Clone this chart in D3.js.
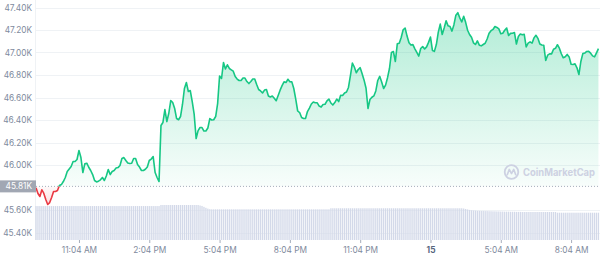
<!DOCTYPE html>
<html>
<head>
<meta charset="utf-8">
<script src="https://cdn.jsdelivr.net/npm/d3@7.9.0/dist/d3.min.js"></script>
<style>
  html, body { margin: 0; padding: 0; background: #fff; }
  svg { display: block; font-family: Inter, "Noto Sans", sans-serif; }
</style>
</head>
<body>
<svg id="chart" width="600" height="258"></svg>
<script>
// BTC price, 5 minute steps
const startTime = new Date(2021, 11, 14, 9, 14);
const stepMinutes = 5;
const openPrice = 45810;

const prices = [
  45797, 45747, 45720, 45780, 45747, 45693, 45649, 45666, 45711, 45764,
  45764, 45773, 45818, 45826, 45853, 45889, 45942, 45964, 45986, 46031,
  46031, 46049, 46129, 46066, 45933, 46010, 46016, 45980, 45951, 45915,
  45862, 45850, 45856, 45868, 45889, 45862, 45902, 45960, 45915, 45942,
  45951, 45973, 45977, 45995, 46058, 46066, 46040, 46018, 46013, 46016,
  46058, 46058, 46004, 45982, 45951, 45951, 45962, 45982, 46040, 46053,
  46075, 45933, 45889, 45853, 46351, 46378, 46493, 46386, 46460, 46573,
  46555, 46502, 46413, 46402, 46431, 46538, 46680, 46733, 46653, 46662,
  46564, 46449, 46235, 46306, 46333, 46333, 46302, 46302, 46329, 46413,
  46400, 46402, 46431, 46546, 46791, 46769, 46911, 46853, 46891, 46858,
  46846, 46834, 46786, 46764, 46751, 46751, 46773, 46773, 46742, 46724,
  46742, 46764, 46764, 46715, 46671, 46658, 46640, 46666, 46671, 46613,
  46604, 46613, 46594, 46571, 46618, 46665, 46705, 46739, 46733, 46762,
  46740, 46739, 46680, 46586, 46480, 46466, 46422, 46413, 46413, 46475,
  46506, 46542, 46560, 46554, 46553, 46524, 46515, 46538, 46540, 46570,
  46586, 46551, 46533, 46555, 46586, 46564, 46620, 46618, 46640, 46649,
  46689, 46795, 46906, 46871, 46820, 46849, 46865, 46811, 46754, 46682,
  46502, 46582, 46602, 46614, 46658, 46751, 46788, 46738, 46680, 46710,
  46776, 46858, 47000, 47009, 46920, 47077, 47082, 47133, 47202, 47218,
  47146, 47086, 47066, 47070, 47033, 47001, 46968, 47035, 47053, 47031,
  47050, 47090, 47137, 47018, 47010, 47071, 47181, 47252, 47160, 47218,
  47282, 47237, 47231, 47190, 47247, 47332, 47354, 47308, 47271, 47322,
  47268, 47198, 47160, 47136, 47086, 47071, 47103, 47065, 47059, 47071,
  47082, 47120, 47171, 47194, 47205, 47231, 47223, 47210, 47167, 47171,
  47198, 47218, 47151, 47170, 47171, 47177, 47075, 47142, 47164, 47157,
  47162, 47050, 47083, 47094, 47083, 47130, 47153, 47126, 47075, 47066,
  47065, 46929, 46976, 46988, 46988, 47029, 47037, 47069, 47038, 46989,
  46953, 46962, 46983, 46961, 46895, 46893, 46899, 46864, 46804, 46920,
  46990, 46995, 47009, 47010, 46994, 46970, 46961, 46997, 47034
];

// 24h volume, billions USD
const volumes = [
  29.1, 29.1, 29.1, 29.1, 29.1, 29.1, 29.1, 29.1, 29.1, 29.1,
  29.1, 29.1, 29.1, 29.1, 29.1, 29.1, 29.1, 29.1, 29.1, 29.1,
  29.1, 29.1, 29.1, 29.1, 29.1, 29.1, 29.1, 29.1, 29.1, 29.1,
  29.1, 29.1, 29.1, 29.1, 29.1, 29.1, 29.1, 29.1, 29.1, 29.1,
  29.1, 29.1, 29.1, 29.1, 29.1, 29.1, 29.1, 29.1, 29.1, 29.1,
  29.1, 29.1, 29.1, 29.1, 29.1, 29.1, 29.1, 29.1, 29.1, 29.1,
  29.1, 29.1, 29.1, 29.1, 30.0, 30.0, 30.0, 30.0, 30.0, 30.0,
  30.0, 30.0, 30.0, 30.0, 30.0, 30.0, 30.0, 30.0, 30.0, 30.0,
  30.0, 30.0, 30.0, 30.0, 29.6, 29.2, 28.4, 27.6, 26.9, 26.4,
  26.3, 26.3, 26.3, 26.3, 26.3, 26.3, 26.3, 26.3, 26.3, 26.3,
  26.3, 26.3, 26.3, 26.3, 26.3, 26.3, 26.3, 26.3, 26.3, 26.3,
  26.3, 26.3, 26.3, 26.3, 26.3, 26.3, 26.3, 26.3, 26.3, 26.3,
  26.3, 26.3, 26.3, 26.3, 26.3, 26.3, 26.3, 26.3, 26.3, 26.3,
  26.3, 26.3, 26.3, 26.3, 26.3, 26.3, 26.3, 26.3, 26.3, 26.3,
  26.3, 26.3, 26.3, 26.3, 26.3, 26.3, 26.3, 26.3, 26.3, 26.3,
  26.3, 27.2, 27.2, 27.2, 27.2, 27.2, 27.2, 27.2, 27.2, 27.2,
  27.2, 27.2, 27.2, 27.2, 27.2, 27.2, 27.2, 27.2, 27.2, 27.2,
  27.2, 27.2, 27.2, 27.2, 27.2, 27.2, 27.2, 27.2, 27.2, 27.2,
  27.2, 27.2, 27.2, 27.2, 27.2, 27.2, 27.2, 27.2, 27.2, 27.2,
  27.2, 27.2, 27.2, 27.2, 27.2, 27.2, 27.2, 27.2, 27.2, 27.2,
  27.2, 27.2, 27.2, 27.2, 27.2, 27.2, 27.2, 27.2, 27.2, 27.2,
  27.2, 27.2, 27.2, 27.2, 27.2, 27.2, 27.2, 27.2, 27.2, 27.0,
  26.6, 26.2, 25.8, 25.5, 25.3, 25.2, 25.0, 25.0, 24.9, 24.9,
  24.8, 24.8, 24.7, 24.7, 24.6, 24.6, 24.5, 24.5, 24.4, 24.4,
  24.3, 24.3, 24.3, 24.2, 24.2, 24.2, 24.1, 24.1, 24.1, 24.0,
  24.0, 24.0, 24.0, 24.0, 24.0, 24.0, 24.0, 24.0, 24.0, 24.0,
  24.0, 24.0, 24.0, 24.0, 24.0, 24.0, 24.0, 23.4, 23.4, 23.4,
  23.4, 23.4, 23.4, 23.4, 23.4, 23.4, 23.4, 23.4, 23.4, 23.4,
  23.4, 23.4, 23.4, 23.4, 23.4, 23.4, 23.4, 23.4, 23.4
];

const priceTicks = [45400, 45600, 46000, 46200, 46400, 46600, 46800, 47000, 47200, 47400];
const timeTicks = [
  new Date(2021, 11, 14, 11, 4), new Date(2021, 11, 14, 14, 4),
  new Date(2021, 11, 14, 17, 4), new Date(2021, 11, 14, 20, 4),
  new Date(2021, 11, 14, 23, 4), new Date(2021, 11, 15, 2, 4),
  new Date(2021, 11, 15, 5, 4), new Date(2021, 11, 15, 8, 4)
];

const data = prices.map((p, i) => ({
  time: d3.timeMinute.offset(startTime, i * stepMinutes),
  price: p,
  volume: volumes[i]
}));

const svg = d3.select('#chart');
const left = 36, right = 600, volBottom = 240;

const x = d3.scaleTime()
  .domain([startTime, d3.timeMinute.offset(startTime, 1444)])
  .range([left, right]);
const y = d3.scaleLinear().domain([45400, 47400]).range([232.5, 7.5]);
const yVol = d3.scaleLinear().domain([0, 36]).range([volBottom, 198]);
const baseY = y(openPrice);

const defs = svg.append('defs');
const grad = defs.append('linearGradient')
  .attr('id', 'greenFill').attr('gradientUnits', 'userSpaceOnUse')
  .attr('x1', 0).attr('x2', 0).attr('y1', y(47400)).attr('y2', baseY);
grad.append('stop').attr('offset', 0).attr('stop-color', '#16c784').attr('stop-opacity', 0.34);
grad.append('stop').attr('offset', 1).attr('stop-color', '#16c784').attr('stop-opacity', 0.03);

const redGrad = defs.append('linearGradient')
  .attr('id', 'redFill').attr('gradientUnits', 'userSpaceOnUse')
  .attr('x1', 0).attr('x2', 0).attr('y1', baseY).attr('y2', y(45650));
redGrad.append('stop').attr('offset', 0).attr('stop-color', '#ea3943').attr('stop-opacity', 0.03);
redGrad.append('stop').attr('offset', 1).attr('stop-color', '#ea3943').attr('stop-opacity', 0.16);

defs.append('clipPath').attr('id', 'above')
  .append('rect').attr('x', left).attr('y', 0).attr('width', right - left).attr('height', baseY);
defs.append('clipPath').attr('id', 'below')
  .append('rect').attr('x', left).attr('y', baseY).attr('width', right - left).attr('height', volBottom - baseY);

// grid
svg.append('g').selectAll('line')
  .data(priceTicks)
  .join('line')
  .attr('x1', left).attr('x2', right)
  .attr('y1', (d) => Math.round(y(d)) + 0.5).attr('y2', (d) => Math.round(y(d)) + 0.5)
  .attr('stroke', '#eff2f5');
svg.append('line')
  .attr('x1', left - 0.5).attr('x2', left - 0.5).attr('y1', 0).attr('y2', volBottom)
  .attr('stroke', '#eff2f5');

// volume bars
const barW = 1.3;
svg.append('g').selectAll('rect')
  .data(data)
  .join('rect')
  .attr('x', (d) => x(d.time) - barW / 2)
  .attr('y', (d) => yVol(d.volume))
  .attr('width', barW)
  .attr('height', (d) => volBottom - yVol(d.volume))
  .attr('fill', '#d3d9e9');

// areas
const area = d3.area()
  .x((d) => x(d.time))
  .y0(baseY)
  .y1((d) => y(d.price));
svg.append('path').datum(data).attr('d', area)
  .attr('fill', 'url(#greenFill)').attr('clip-path', 'url(#above)');
svg.append('path').datum(data).attr('d', area)
  .attr('fill', 'url(#redFill)').attr('clip-path', 'url(#below)');

// watermark
const wm = svg.append('g').attr('transform', 'translate(511.5,172)');
wm.append('circle').attr('r', 6.8).attr('fill', 'none').attr('stroke', '#cdd1e2').attr('stroke-width', 1.8);
wm.append('path')
  .attr('d', 'M-4.2,2.6 L-2.2,-2.6 L0,1.6 L2.2,-2.6 L4.2,2.6')
  .attr('fill', 'none').attr('stroke', '#cdd1e2').attr('stroke-width', 1.6)
  .attr('stroke-linejoin', 'round').attr('stroke-linecap', 'round');
svg.append('text')
  .attr('x', 523).attr('y', 176)
  .attr('font-size', 10).attr('font-weight', 700)
  .attr('textLength', 72).attr('lengthAdjust', 'spacingAndGlyphs')
  .attr('fill', '#cdd1e2')
  .text('CoinMarketCap');

// baseline
svg.append('line')
  .attr('x1', left).attr('x2', right).attr('y1', baseY).attr('y2', baseY)
  .attr('stroke', '#a6adbb').attr('stroke-width', 1)
  .attr('stroke-dasharray', '1,2');

// price line
const line = d3.line()
  .x((d) => x(d.time))
  .y((d) => y(d.price));
svg.append('path').datum(data).attr('d', line)
  .attr('fill', 'none').attr('stroke', '#16c784').attr('stroke-width', 1.6)
  .attr('stroke-linejoin', 'round').attr('clip-path', 'url(#above)');
svg.append('path').datum(data).attr('d', line)
  .attr('fill', 'none').attr('stroke', '#ea3943').attr('stroke-width', 1.6)
  .attr('stroke-linejoin', 'round').attr('clip-path', 'url(#below)');

// y axis labels
const yAxis = svg.append('g')
  .attr('transform', `translate(${left - 4},0)`)
  .call(d3.axisLeft(y).tickValues(priceTicks).tickSize(0).tickPadding(0)
    .tickFormat((d) => (d / 1000).toFixed(2) + 'K'));
yAxis.select('.domain').remove();
yAxis.selectAll('text')
  .attr('fill', '#808a9d').attr('font-size', 8.3)
  .attr('font-family', 'Inter, sans-serif');

// opening price tag
svg.append('rect')
  .attr('x', 0).attr('y', baseY - 6).attr('width', left).attr('height', 12)
  .attr('fill', '#a1a7b3');
svg.append('text')
  .attr('x', left - 4).attr('y', baseY).attr('dy', '0.35em')
  .attr('text-anchor', 'end').attr('font-size', 8.3)
  .attr('fill', '#fff')
  .text((openPrice / 1000).toFixed(2) + 'K');

// x axis
const fmtTime = d3.timeFormat('%-I:%M %p');
const fmtDay = d3.timeFormat('%-d');
const isNewDay = (d, i) => i > 0 && d.getDate() !== timeTicks[i - 1].getDate();
const xAxis = svg.append('g')
  .attr('transform', `translate(0,${volBottom})`)
  .call(d3.axisBottom(x).tickValues(timeTicks).tickSize(3).tickPadding(4)
    .tickFormat((d, i) => isNewDay(d, i) ? fmtDay(d) : fmtTime(d)));
xAxis.select('.domain').remove();
xAxis.selectAll('line').attr('stroke', '#a6adbb');
xAxis.selectAll('text')
  .attr('font-size', 8.3)
  .attr('font-family', 'Inter, sans-serif')
  .attr('font-weight', (d, i) => isNewDay(d, i) ? 700 : 400)
  .attr('fill', (d, i) => isNewDay(d, i) ? '#58667e' : '#808a9d');
</script>
</body>
</html>
